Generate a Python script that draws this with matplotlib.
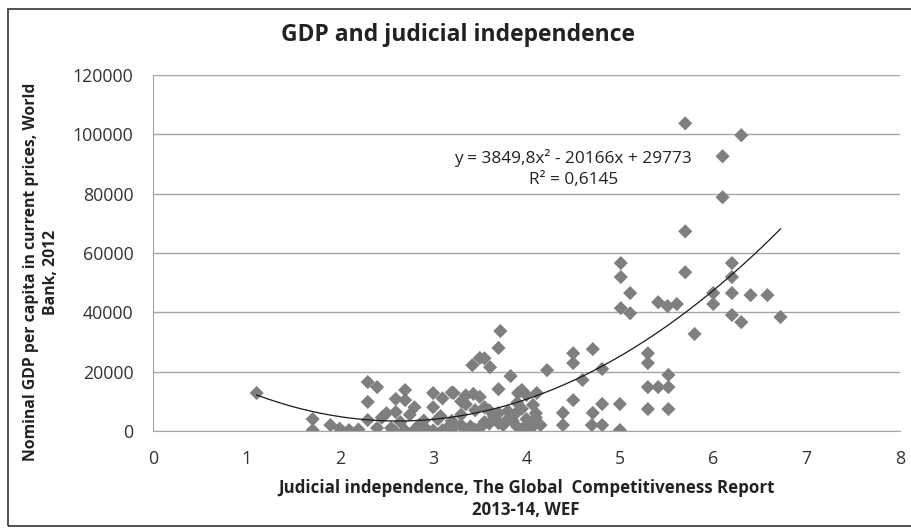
import matplotlib
matplotlib.use("Agg")
import matplotlib.pyplot as plt
import numpy as np
from matplotlib.patches import Rectangle

# Judicial independence score (x) and GDP per capita (y, USD)
judicial = [1.11, 1.71, 1.71, 1.90, 2.00, 2.10, 2.20, 2.30, 2.30, 2.40, 2.30, 2.40, 2.50,
            2.60, 2.60, 2.70, 2.70, 2.80, 2.58, 2.70, 2.80, 2.90, 3.00, 3.00, 3.00, 3.08,
            3.10, 3.20, 3.22, 3.30, 3.35, 3.43, 3.42, 3.50, 3.55, 3.61, 3.72, 3.70, 3.70,
            3.83, 3.70, 3.80, 3.90, 3.91, 3.95, 4.00, 4.00, 4.00, 4.07, 4.07, 4.11, 4.15,
            4.22, 4.39, 4.39, 4.50, 4.50, 4.50, 4.60, 4.71, 4.71, 4.70, 4.81, 4.81, 4.81,
            5.01, 5.01, 5.11, 5.01, 5.11, 5.00, 5.00, 5.30, 5.30, 5.30, 5.30, 5.41, 5.51,
            5.41, 5.52, 5.52, 5.52, 5.61, 5.70, 5.70, 5.70, 5.80, 6.00, 6.00, 6.10, 6.10,
            6.20, 6.20, 6.20, 6.20, 6.30, 6.30, 6.40, 6.58, 6.72,
            3.15, 3.20, 3.30, 3.40, 3.45, 3.50, 3.55, 3.60, 3.65, 3.70, 3.80, 3.85, 3.90,
            4.00, 4.05, 4.10, 3.35, 3.30, 3.45, 3.50, 3.55, 3.10, 3.20, 3.35, 2.90, 2.65,
            2.75, 2.85, 3.05, 2.55, 2.45, 3.95, 4.10, 3.75, 3.60, 3.90]
gdp = [12800, 4000, 300, 2000, 800, 300, 500, 3700, 16500, 14800, 9800, 1000, 6000,
       6400, 10800, 13800, 10400, 8000, 200, 200, 400, 3500, 12800, 8000, 200, 5000,
       300, 3400, 12800, 10000, 200, 12500, 22200, 24600, 24500, 21500, 33700, 28000, 14100,
       18500, 2700, 6700, 6400, 12800, 13800, 12100, 4000, 300, 8800, 3000, 12800, 2000,
       20500, 6100, 2000, 26200, 22900, 10400, 17200, 27600, 6100, 2000, 20900, 9100, 2000,
       56600, 51900, 46500, 41400, 39700, 9100, 300, 26200, 22900, 14800, 7400, 43400, 42100,
       14800, 18900, 14800, 7400, 42800, 103700, 67300, 53500, 32700, 46500, 42800, 92600, 78800,
       56600, 51900, 46500, 39100, 36700, 99700, 45800, 45800, 38400,
       1000, 500, 2000, 1500, 500, 1000, 3000, 2500, 5000, 6000, 4000, 3500, 1500,
       2000, 1000, 4500, 9000, 5500, 7000, 11500, 8000, 11000, 13000, 12000, 1500, 3000,
       5500, 2000, 4000, 1000, 4500, 7500, 6000, 2000, 7000, 9500]

# Polynomial trendline coefficients (as reported on chart)
trend_coef = [3849.8, -20166, 29773]
r_squared = "0,6145"

x_ticks = [0, 1, 2, 3, 4, 5, 6, 7, 8]
y_ticks = [0, 20000, 40000, 60000, 80000, 100000, 120000]

FONT = ["Open Sans", "DejaVu Sans"]
plt.rcParams['font.family'] = FONT

W, H = 911, 528
fig = plt.figure(figsize=(W/100, H/100), dpi=100)
ax = fig.add_axes([153/W, 97/H, 747/W, 356/H])

ax.scatter(judicial, gdp, marker='D', s=52, color='#7f7f7f', edgecolors='none', zorder=3)

xs = np.linspace(min(judicial), max(judicial), 200)
ax.plot(xs, np.polyval(trend_coef, xs), color='#1a1a1a', lw=0.9, zorder=4)

ax.set_xlim(0, 8)
ax.set_ylim(0, 120000)
ax.set_xticks(x_ticks)
ax.set_yticks(y_ticks)
ax.set_xticklabels([str(v) for v in x_ticks], fontsize=12.8, color='#333333')
ax.set_yticklabels([str(v) for v in y_ticks], fontsize=12.8, color='#333333')
ax.tick_params(axis='y', length=0, pad=14)
ax.tick_params(axis='x', length=0, pad=14)

ax.grid(axis='y', color='#a6a6a6', lw=1)
ax.set_axisbelow(True)
for s in ['right', 'top']:
    ax.spines[s].set_visible(False)
ax.spines['left'].set_color('#a6a6a6')
ax.spines['bottom'].set_color('#a6a6a6')

ax.set_xlabel("Judicial independence, The Global  Competitiveness Report\n2013-14, WEF",
              fontsize=12.2, fontweight='bold', color='#222222', linespacing=1.35,
              ha='center', va='center')
ax.xaxis.set_label_coords((526 - 153) / 747, -(499 - 431) / 356)
ax.set_ylabel("Nominal GDP per capita in current prices, World\nBank, 2012",
              fontsize=11.3, fontweight='bold', color='#222222', linespacing=1.35,
              ha='center', va='center')
ax.yaxis.set_label_coords(-(153 - 41) / 747, (431 - 272) / 356)

fig.text(458/W, 1 - 35/H, "GDP and judicial independence", ha='center', va='center',
         fontsize=16.5, fontweight='bold', color='#222222')

a, b, c = trend_coef
eq = f"y = {a:.1f}".replace('.', ',') + f"x² - {abs(b):.0f}x + {c:.0f}"
ax.text(4.50, 88500, eq + "\nR² = " + r_squared, ha='center', va='center',
        fontsize=12.4, color='#222222', linespacing=1.4)

fig.patches.append(Rectangle((8/W, 0.003), 1.2, 1 - 9/H - 0.003, transform=fig.transFigure,
                             fill=False, edgecolor='#333333', lw=1.2))

fig.savefig("out.png", dpi=100)
